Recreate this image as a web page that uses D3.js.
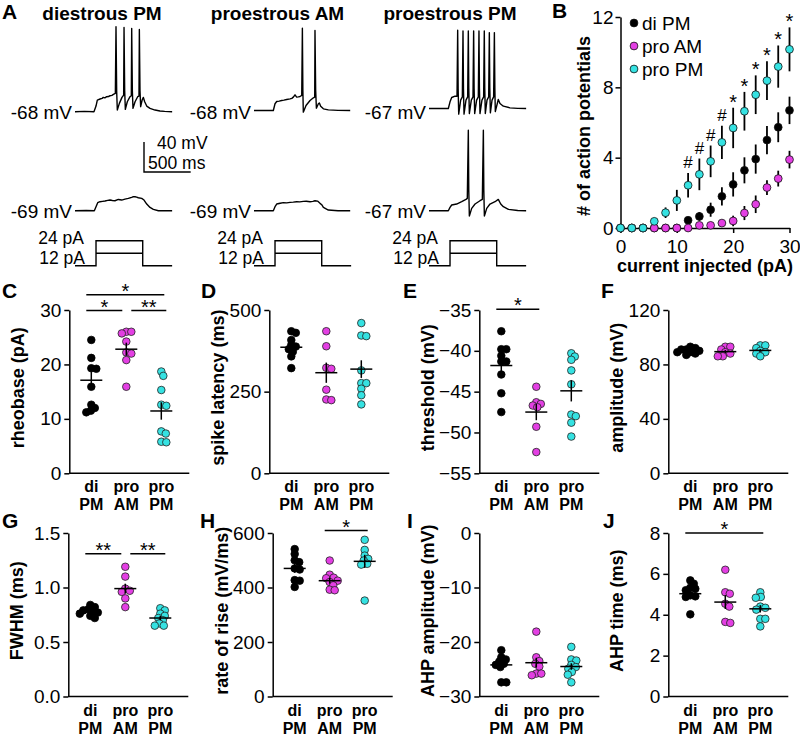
<!DOCTYPE html>
<html>
<head>
<meta charset="utf-8">
<script src="https://cdn.jsdelivr.net/npm/d3@7"></script>
<style>
body { margin: 0; background: #fff; }
svg text { font-family: "Liberation Sans", Arial, sans-serif; fill: #000; }
</style>
</head>
<body>
<div id="chart_div"></div>
<script>
// ---------- data ----------
var groups = ["di PM", "pro AM", "pro PM"];
var group_colours = ["#000000", "#e33fe3", "#35e2e2"];

// panel A: example recordings, [ms, mV]
var trace_titles = ["diestrous PM", "proestrous AM", "proestrous PM"];
var rest_top_mv = [-68, -68, -67];
var rest_bottom_mv = [-69, -69, -67];
var step_levels_pa = [12, 24];
var step_times_ms = [225, 725];
var trace_end_ms = 1040;

var di_pm_trace_top = [[0,-68],[100,-67.6],[203,-68],[225,-60.5],[239,-52.5],[268,-51.1],[290,-50.2],[303,-48.9],[320,-49.5],[339,-48],[360,-47.8],[375,-46.7],[395,-46.2],[411,-44.9],[432,-43.6],[439,45.2],[446,-40],[453,-65.8],[475,-56.9],[503,-48.9],[521,-45.8],[525,44.3],[532,-40],[539,-64.9],[560,-54.7],[589,-48],[603,-46.7],[607,43],[614,-40],[621,-63.6],[643,-54.7],[671,-48],[685,-47.1],[689,41.7],[696,-40],[703,-61.3],[720,-52],[732,-48.9],[746,-54.7],[768,-60.5],[803,-63.6],[857,-65.8],[910,-67.1],[960,-67.6],[1040,-68]];
var di_pm_trace_bottom = [[0,-69],[120,-68.7],[207,-69],[225,-63.7],[243,-58.3],[268,-57],[295,-56.5],[321,-56.1],[350,-55.2],[375,-54.8],[400,-55.4],[428,-55.7],[464,-54],[500,-54.8],[535,-53.5],[571,-52.6],[590,-51.8],[607,-51.3],[625,-50.2],[643,-50.4],[660,-50.9],[678,-51.7],[714,-52.6],[739,-54.8],[768,-60.1],[803,-64.6],[839,-67.2],[893,-69],[1040,-69]];
var pro_am_trace_top = [[0,-68],[100,-68],[207,-68],[225,-59],[243,-56],[270,-55.5],[296,-54.7],[320,-54.2],[350,-53.3],[386,-52.5],[405,-51.8],[421,-50.2],[439,-47.1],[457,-50.2],[475,-49.8],[493,-49.3],[511,-48],[518,41.7],[523,-40],[528,-70.2],[557,-61.3],[600,-54.7],[636,-51.1],[650,-50.2],[653,38.6],[660,-40],[668,-64.9],[689,-59.1],[700,-58],[714,-62.2],[743,-65.8],[796,-67.1],[900,-67.8],[1030,-68]];
var pro_am_trace_bottom = [[0,-69],[100,-69],[207,-69],[225,-63.7],[243,-60.1],[280,-59],[314,-58.3],[350,-58.5],[386,-57.9],[420,-57.6],[457,-57],[490,-57.3],[528,-56.6],[560,-56.4],[600,-57],[630,-56.5],[653,-55.7],[680,-56.2],[707,-59.2],[725,-61],[743,-64.6],[796,-68.1],[900,-69],[1030,-69]];
var pro_pm_trace_top = [[0,-67],[100,-67],[207,-67],[225,-58.1],[243,-52.3],[279,-50.6],[300,-50.6],[307,37.3],[312,-40],[318,-74.5],[339,-55.9],[357,-51.5],[364,36.4],[369,-40],[375,-74.5],[396,-55.9],[414,-51.5],[421,36.4],[426,-40],[432,-73.7],[453,-55.9],[471,-51.5],[478,36.4],[483,-40],[489,-73.7],[510,-55.9],[528,-51.5],[535,36.4],[540,-40],[546,-73.7],[567,-55.9],[585,-51.5],[592,36.4],[597,-40],[603,-73.7],[621,-55.9],[639,-51.5],[646,34.2],[651,-40],[657,-72.8],[675,-55.9],[692,-51.5],[700,34.2],[705,-40],[710,-71],[742,-55],[760,-60.3],[796,-63.9],[867,-66.1],[950,-66.8],[1040,-67]];
var pro_pm_trace_bottom = [[0,-67],[100,-67],[207,-67],[225,-62.6],[243,-59.4],[296,-58.1],[350,-55],[396,-51.9],[410,-50.6],[421,40.4],[426,-40],[432,-74.1],[457,-63.9],[493,-58.1],[546,-53.7],[571,-51.9],[582,40.4],[587,-40],[593,-74.1],[618,-63.9],[653,-58.1],[707,-55],[742,-51.9],[768,-58.1],[796,-61.7],[850,-65.2],[950,-66.8],[1040,-67]];

// panel B: number of action potentials vs injected current
var current_steps = [0, 2, 4, 6, 8, 10, 12, 14, 16, 18, 20, 22, 24, 26, 28, 30];
var di_pm_spikes = [0, 0, 0, 0, 0, 0, 0.44, 0.66, 1.04, 1.8, 2.48, 3.28, 3.92, 5.0, 5.73, 6.69];
var di_pm_spikes_sem = [0, 0, 0, 0, 0, 0, 0.15, 0.25, 0.4, 0.52, 0.69, 0.74, 0.83, 0.8, 0.85, 0.78];
var pro_am_spikes = [0, 0, 0, 0, 0, 0, 0, 0.15, 0.15, 0.28, 0.4, 0.85, 1.35, 2.3, 2.81, 3.89];
var pro_am_spikes_sem = [0, 0, 0, 0, 0, 0, 0, 0.05, 0.05, 0.15, 0.3, 0.4, 0.5, 0.42, 0.45, 0.5];
var pro_pm_spikes = [0, 0, 0, 0.38, 0.87, 1.57, 2.43, 3.05, 3.79, 4.87, 5.69, 6.64, 7.58, 8.38, 9.18, 10.16];
var pro_pm_spikes_sem = [0, 0, 0, 0.15, 0.3, 0.6, 0.7, 0.9, 0.9, 0.95, 1.15, 1.1, 1.1, 1.1, 1.2, 1.25];
var spike_marks = ["", "", "", "", "", "", "#", "#", "#", "#", "*", "*", "*", "*", "*", "*"];
var spike_ticks_x = [0, 10, 20, 30];
var spike_ticks_y = [0, 4, 8, 12];

// panels C-J: individual cells
var rheobase_di_pm = [24.5, 21.2, 19.2, 19.3, 15.9, 12.6, 11.5, 11.2, 12.0];
var rheobase_pro_am = [26.0, 25.7, 26.0, 24.2, 22.2, 22.0, 20.8, 15.9];
var rheobase_pro_pm = [18.7, 17.9, 15.3, 12.6, 12.4, 7.3, 7.7, 5.7, 5.8];
var rheobase_mean = [17.1, 22.8, 11.45];
var rheobase_sem = [1.5, 1.2, 1.6];
var rheobase_ticks = [0, 10, 20, 30];
var rheobase_sig = [[0, 1, 29.9, "*"], [1, 2, 29.9, "**"], [0, 2, 32.8, "*"]];

var latency_di_pm = [435, 430, 408, 393, 388, 380, 372, 358, 322];
var latency_pro_am = [435, 389, 323, 320, 256, 224, 226];
var latency_pro_pm = [460, 422, 420, 315, 276, 276, 259, 239, 211];
var latency_mean = [386, 308, 319];
var latency_sem = [12, 31, 27];
var latency_ticks = [0, 250, 500];

var threshold_di_pm = [-37.6, -39.8, -39.8, -40.6, -41.3, -41.3, -42.9, -45.2, -47.5];
var threshold_pro_am = [-44.4, -46.3, -46.5, -46.7, -46.9, -49.3, -52.4];
var threshold_pro_pm = [-41.1, -40.7, -40.3, -42.4, -44.1, -48.0, -47.8, -48.8, -50.5];
var threshold_mean = [-41.8, -47.5, -44.9];
var threshold_sem = [1.0, 1.0, 1.3];
var threshold_ticks = [-55, -50, -45, -40, -35];
var threshold_sig = [[0, 1, -34.9, "*"]];

var amplitude_di_pm = [93, 92, 91, 90, 89, 89, 88, 87, 91];
var amplitude_pro_am = [93, 93, 91, 89, 88, 86, 86];
var amplitude_pro_pm = [94, 94, 92, 90, 89, 88, 86];
var amplitude_mean = [90.1, 89.4, 90.3];
var amplitude_sem = [0.7, 1.1, 1.0];
var amplitude_ticks = [0, 40, 80, 120];

var fwhm_di_pm = [0.84, 0.82, 0.80, 0.79, 0.78, 0.77, 0.76, 0.74, 0.72];
var fwhm_pro_am = [1.19, 1.10, 0.99, 0.97, 0.96, 0.90, 0.82];
var fwhm_pro_pm = [0.81, 0.79, 0.76, 0.74, 0.72, 0.70, 0.67, 0.65, 0.65];
var fwhm_mean = [0.78, 0.99, 0.72];
var fwhm_sem = [0.013, 0.045, 0.02];
var fwhm_ticks = [0, 0.5, 1.0, 1.5];
var fwhm_sig = [[0, 1, 1.31, "**"], [1, 2, 1.31, "**"]];

var rise_di_pm = [541, 523, 500, 493, 470, 466, 427, 425, 402];
var rise_pro_am = [499, 447, 436, 434, 425, 420, 408, 392, 390];
var rise_pro_pm = [575, 538, 517, 505, 499, 487, 484, 352];
var rise_mean = [470, 425, 496];
var rise_sem = [16, 11, 24];
var rise_ticks = [0, 200, 400, 600];
var rise_sig = [[1, 2, 609, "*"]];

var ahp_amp_di_pm = [-21.5, -22.8, -23.2, -23.6, -24.0, -24.2, -24.6, -27.4, -27.4];
var ahp_amp_pro_am = [-18.1, -22.8, -23.5, -24.0, -24.5, -25.8, -26.1, -25.8];
var ahp_amp_pro_pm = [-20.9, -23.2, -23.4, -24.2, -24.6, -24.9, -25.5, -26.0, -27.4];
var ahp_amp_mean = [-24.2, -23.8, -24.5];
var ahp_amp_sem = [0.7, 0.9, 0.6];
var ahp_amp_ticks = [-30, -20, -10, 0];

var ahp_time_di_pm = [5.52, 5.32, 5.68, 5.27, 5.2, 4.95, 4.87, 4.9, 4.02];
var ahp_time_pro_am = [6.2, 5.03, 5.1, 4.54, 4.4, 3.6, 3.65];
var ahp_time_pro_pm = [5.1, 4.87, 4.83, 4.4, 4.34, 4.25, 3.8, 3.8, 3.43];
var ahp_time_mean = [5.03, 4.62, 4.29];
var ahp_time_sem = [0.17, 0.34, 0.18];
var ahp_time_ticks = [0, 2, 4, 6, 8];
var ahp_time_sig = [[0, 2, 8.0, "*"]];

// ---------- drawing ----------
var svg = d3.select("#chart_div").append("svg")
    .attr("width", 800)
    .attr("height", 735);

function panel_letter(letter, x, y) {
    svg.append("text").attr("x", x).attr("y", y)
        .style("font-size", "21px").style("font-weight", "bold")
        .text(letter);
}

// ----- panel A -----
var col_x0 = [75, 254, 429];
var top_base_y = [111.7, 110.5, 108.5];
var bottom_base_y = [210.7, 210.7, 210.7];
var title_x = [102, 277.5, 450];
var px_500ms = 46.7;
var px_40mv = 30;
var top_traces = [di_pm_trace_top, pro_am_trace_top, pro_pm_trace_top];
var bottom_traces = [di_pm_trace_bottom, pro_am_trace_bottom, pro_pm_trace_bottom];

panel_letter("A", 2, 19);

function draw_trace(points, x, base_y, rest) {
    var y = d3.scaleLinear().domain([rest, rest + 40]).range([base_y, base_y - px_40mv]);
    var line = d3.line()
        .x(function(d) { return x(d[0]); })
        .y(function(d) { return y(d[1]); });
    svg.append("path")
        .attr("d", line(points))
        .attr("fill", "none")
        .attr("stroke", "#000")
        .attr("stroke-width", 1.4)
        .attr("stroke-linejoin", "round");
}

trace_titles.forEach(function(title, col) {
    var x = d3.scaleLinear().domain([0, 500]).range([col_x0[col], col_x0[col] + px_500ms]);

    svg.append("text").attr("x", title_x[col]).attr("y", 20)
        .attr("text-anchor", "middle")
        .style("font-size", "19px").style("font-weight", "bold")
        .text(title);

    draw_trace(top_traces[col], x, top_base_y[col], rest_top_mv[col]);
    draw_trace(bottom_traces[col], x, bottom_base_y[col], rest_bottom_mv[col]);

    svg.append("text").attr("x", col_x0[col] - 3).attr("y", 111.7 + 7)
        .attr("text-anchor", "end").style("font-size", "19px")
        .text(rest_top_mv[col] + " mV");
    svg.append("text").attr("x", col_x0[col] - 3).attr("y", bottom_base_y[col] + 7)
        .attr("text-anchor", "end").style("font-size", "19px")
        .text(rest_bottom_mv[col] + " mV");

    // current steps
    var yi = d3.scaleLinear().domain([0, 24]).range([265.7, 240.7]);
    var hi = step_levels_pa[1];
    var outer = [[0, 0], [step_times_ms[0], 0], [step_times_ms[0], hi],
                 [step_times_ms[1], hi], [step_times_ms[1], 0], [trace_end_ms, 0]];
    var inner = [[step_times_ms[0], step_levels_pa[0]], [step_times_ms[1], step_levels_pa[0]]];
    var step_line = d3.line()
        .x(function(d) { return x(d[0]); })
        .y(function(d) { return yi(d[1]); });
    [outer, inner].forEach(function(p) {
        svg.append("path").attr("d", step_line(p))
            .attr("fill", "none").attr("stroke", "#000").attr("stroke-width", 1.4);
    });
    svg.append("text").attr("x", col_x0[col] + 9).attr("y", 244)
        .attr("text-anchor", "end").style("font-size", "17.5px")
        .text(step_levels_pa[1] + " pA");
    svg.append("text").attr("x", col_x0[col] + 10).attr("y", 263.5)
        .attr("text-anchor", "end").style("font-size", "17.5px")
        .text(step_levels_pa[0] + " pA");
});

// scale bar
var sb_x = d3.scaleLinear().domain([0, 500]).range([144, 144 + px_500ms]);
var sb_y = d3.scaleLinear().domain([0, 40]).range([172, 172 - px_40mv]);
svg.append("path")
    .attr("d", "M" + sb_x(0) + "," + sb_y(40) + "V" + sb_y(0) + "H" + sb_x(500))
    .attr("fill", "none").attr("stroke", "#000").attr("stroke-width", 1.4);
svg.append("text").attr("x", 157).attr("y", 149).style("font-size", "17.5px").text("40 mV");
svg.append("text").attr("x", 148).attr("y", 168.5).style("font-size", "17.5px").text("500 ms");

// ----- panel B -----
panel_letter("B", 552, 18);
var xb = d3.scaleLinear().domain([0, 30]).range([620.5, 789.5]);
var yb = d3.scaleLinear().domain([0, 12]).range([228, 17]);

function style_axis(g) {
    g.selectAll("path, line").attr("stroke", "#000").attr("stroke-width", 1.5);
    g.selectAll("text").style("font-size", "19px")
        .style("font-family", "'Liberation Sans', Arial, sans-serif").attr("fill", "#000");
}

svg.append("g").attr("transform", "translate(0,228)")
    .call(d3.axisBottom(xb).tickValues(spike_ticks_x).tickSize(5).tickSizeOuter(0).tickPadding(7))
    .call(style_axis);
svg.append("g").attr("transform", "translate(620.5,0)")
    .call(d3.axisLeft(yb).tickValues(spike_ticks_y).tickSize(5).tickSizeOuter(0).tickPadding(2))
    .call(style_axis);

svg.append("text")
    .attr("transform", "translate(590,126) rotate(-90)")
    .attr("text-anchor", "middle")
    .style("font-size", "18px").style("font-weight", "bold")
    .text("# of action potentials");
svg.append("text").attr("x", 705).attr("y", 272)
    .attr("text-anchor", "middle")
    .style("font-size", "18px").style("font-weight", "bold")
    .text("current injected (pA)");

var spike_series = [
    [di_pm_spikes, di_pm_spikes_sem],
    [pro_am_spikes, pro_am_spikes_sem],
    [pro_pm_spikes, pro_pm_spikes_sem]
];
spike_series.forEach(function(s, gi) {
    var g = svg.append("g");
    g.selectAll("line").data(current_steps).enter().append("line")
        .attr("x1", function(d) { return xb(d); })
        .attr("x2", function(d) { return xb(d); })
        .attr("y1", function(d, i) { return yb(s[0][i] - s[1][i]); })
        .attr("y2", function(d, i) { return yb(s[0][i] + s[1][i]); })
        .attr("stroke", "#000").attr("stroke-width", 1.8);
    g.selectAll("circle").data(current_steps).enter().append("circle")
        .attr("cx", function(d) { return xb(d); })
        .attr("cy", function(d, i) { return yb(s[0][i]); })
        .attr("r", 3.9)
        .attr("fill", group_colours[gi])
        .attr("stroke", "#111").attr("stroke-width", 0.8);
});

svg.append("g").selectAll("text").data(current_steps).enter().append("text")
    .attr("x", function(d) { return xb(d); })
    .attr("y", function(d, i) {
        var top = yb(pro_pm_spikes[i] + pro_pm_spikes_sem[i]);
        return spike_marks[i] == "#" ? top - 4.5 : top + 1;
    })
    .attr("text-anchor", "middle")
    .style("font-size", function(d, i) { return spike_marks[i] == "#" ? "17px" : "20px"; })
    .text(function(d, i) { return spike_marks[i]; });

// legend
groups.forEach(function(name, gi) {
    var ly = 23 + gi * 23;
    svg.append("circle").attr("cx", 634).attr("cy", ly).attr("r", 3.9)
        .attr("fill", group_colours[gi]).attr("stroke", "#111").attr("stroke-width", 0.8);
    svg.append("text").attr("x", 642).attr("y", ly + 6.5)
        .style("font-size", "19px").text(name);
});

// ----- panels C-J -----
var rows = [{top: 310, bottom: 473.3, letter_y: 298}, {top: 533, bottom: 696.5, letter_y: 528}];
var cat_offsets = [22, 57, 92];
var axis_len = 120;
var dot_r = 3.8;

var panels = [
    {letter: "C", lx: 2, ax: 69.3, row: 0, title: "rheobase (pA)", domain: [0, 30], ticks: rheobase_ticks,
     values: [rheobase_di_pm, rheobase_pro_am, rheobase_pro_pm], mean: rheobase_mean, sem: rheobase_sem, sig: rheobase_sig},
    {letter: "D", lx: 201, ax: 269.3, row: 0, title: "spike latency (ms)", domain: [0, 500], ticks: latency_ticks,
     values: [latency_di_pm, latency_pro_am, latency_pro_pm], mean: latency_mean, sem: latency_sem, sig: []},
    {letter: "E", lx: 403, ax: 479.3, row: 0, title: "threshold (mV)", domain: [-55, -35], ticks: threshold_ticks,
     values: [threshold_di_pm, threshold_pro_am, threshold_pro_pm], mean: threshold_mean, sem: threshold_sem, sig: threshold_sig},
    {letter: "F", lx: 601, ax: 668.3, row: 0, title: "amplitude (mV)", domain: [0, 120], ticks: amplitude_ticks,
     values: [amplitude_di_pm, amplitude_pro_am, amplitude_pro_pm], mean: amplitude_mean, sem: amplitude_sem, sig: []},
    {letter: "G", lx: 2, ax: 68.3, row: 1, title: "FWHM (ms)", domain: [0, 1.5], ticks: fwhm_ticks, fmt: ".1f",
     values: [fwhm_di_pm, fwhm_pro_am, fwhm_pro_pm], mean: fwhm_mean, sem: fwhm_sem, sig: fwhm_sig},
    {letter: "H", lx: 200, ax: 272.7, row: 1, title: "rate of rise (mV/ms)", domain: [0, 600], ticks: rise_ticks,
     values: [rise_di_pm, rise_pro_am, rise_pro_pm], mean: rise_mean, sem: rise_sem, sig: rise_sig},
    {letter: "I", lx: 407, ax: 479.3, row: 1, title: "AHP amplitude (mV)", domain: [-30, 0], ticks: ahp_amp_ticks,
     values: [ahp_amp_di_pm, ahp_amp_pro_am, ahp_amp_pro_pm], mean: ahp_amp_mean, sem: ahp_amp_sem, sig: []},
    {letter: "J", lx: 603, ax: 668.3, row: 1, title: "AHP time (ms)", domain: [0, 8], ticks: ahp_time_ticks,
     values: [ahp_time_di_pm, ahp_time_pro_am, ahp_time_pro_pm], mean: ahp_time_mean, sem: ahp_time_sem, sig: ahp_time_sig}
];

// simple swarm: keep dots near the group centre, allowing some overlap
function swarm(values, y, cx, r) {
    var placed = [];
    var order = values.map(function(v, i) { return i; })
        .sort(function(a, b) { return values[b] - values[a]; });
    var min_d = 2 * r * 0.62;
    order.forEach(function(i) {
        var py = y(values[i]);
        var k = 0, px;
        while (true) {
            var off = (k % 2 === 1 ? 1 : -1) * Math.ceil(k / 2) * 0.5;
            px = cx + off;
            var ok = placed.every(function(p) {
                var dx = p.x - px, dy = p.y - py;
                return dx * dx + dy * dy >= min_d * min_d;
            });
            if (ok) { break; }
            k++;
        }
        placed.push({x: px, y: py});
    });
    return placed;
}

panels.forEach(function(p) {
    var row = rows[p.row];
    var y = d3.scaleLinear().domain(p.domain).range([row.bottom, row.top]);
    var centers = cat_offsets.map(function(o) { return p.ax + o; });

    panel_letter(p.letter, p.lx, row.letter_y);

    var yaxis = d3.axisLeft(y).tickValues(p.ticks).tickSize(5).tickSizeOuter(0).tickPadding(3);
    if (p.fmt) { yaxis.tickFormat(d3.format(p.fmt)); }
    svg.append("g").attr("transform", "translate(" + p.ax + ",0)").call(yaxis).call(style_axis);
    svg.append("line")
        .attr("x1", p.ax).attr("x2", p.ax + axis_len)
        .attr("y1", row.bottom).attr("y2", row.bottom)
        .attr("stroke", "#000").attr("stroke-width", 1.5);

    svg.append("text")
        .attr("transform", "translate(" + (p.ax - 45) + "," + ((row.top + row.bottom) / 2 - 4) + ") rotate(-90)")
        .attr("text-anchor", "middle")
        .style("font-size", "18px").style("font-weight", "bold")
        .text(p.title);

    groups.forEach(function(name, gi) {
        var parts = name.split(" ");
        parts.forEach(function(part, li) {
            svg.append("text")
                .attr("x", centers[gi]).attr("y", row.bottom + 19 + li * 18)
                .attr("text-anchor", "middle")
                .style("font-size", "16px").style("font-weight", "bold")
                .text(part);
        });

        var pts = swarm(p.values[gi], y, centers[gi], dot_r);
        svg.append("g").selectAll("circle").data(pts).enter().append("circle")
            .attr("cx", function(d) { return d.x; })
            .attr("cy", function(d) { return d.y; })
            .attr("r", dot_r)
            .attr("fill", group_colours[gi])
            .attr("stroke", gi === 0 ? "#000" : "#222")
            .attr("stroke-width", 0.8);

        svg.append("line")
            .attr("x1", centers[gi] - 11).attr("x2", centers[gi] + 11)
            .attr("y1", y(p.mean[gi])).attr("y2", y(p.mean[gi]))
            .attr("stroke", "#000").attr("stroke-width", 1.5);
        svg.append("line")
            .attr("x1", centers[gi]).attr("x2", centers[gi])
            .attr("y1", y(p.mean[gi] - p.sem[gi])).attr("y2", y(p.mean[gi] + p.sem[gi]))
            .attr("stroke", "#000").attr("stroke-width", 1.5);
    });

    p.sig.forEach(function(s) {
        var x1 = centers[s[0]] - 5;
        var x2 = centers[s[1]] + 3;
        p.sig.forEach(function(o) {
            if (o !== s && o[2] === s[2]) {
                if (o[1] === s[0]) { x1 = centers[s[0]] + 5; x2 = centers[s[1]] + 5; }
                if (o[0] === s[1]) { x2 = centers[s[1]] - 4; }
            }
        });
        var ly = y(s[2]);
        svg.append("line").attr("x1", x1).attr("x2", x2).attr("y1", ly).attr("y2", ly)
            .attr("stroke", "#000").attr("stroke-width", 1.5);
        svg.append("text").attr("x", (x1 + x2) / 2).attr("y", ly + 3)
            .attr("text-anchor", "middle").style("font-size", "20px")
            .text(s[3]);
    });
});
</script>
</body>
</html>
